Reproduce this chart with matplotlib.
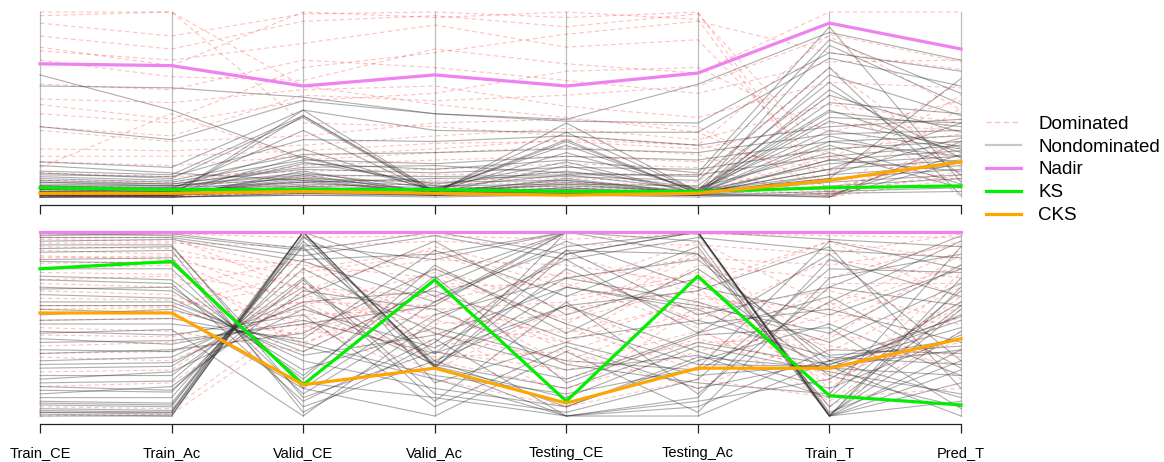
import numpy as np
import matplotlib.pyplot as plt
from matplotlib.lines import Line2D

plt.rcParams["font.family"] = ["Liberation Sans", "DejaVu Sans"]

VARIABLES = ["Train_CE", "Train_Ac", "Valid_CE", "Valid_Ac",
             "Testing_CE", "Testing_Ac", "Train_T", "Pred_T"]

# ---- top panel (scaled objective values) ----
top_nadir = [0.72, 0.71, 0.60, 0.66, 0.60, 0.67, 0.94, 0.80]
top_ks = [0.05, 0.04, 0.04, 0.04, 0.03, 0.03, 0.05, 0.06]
top_cks = [0.02, 0.02, 0.03, 0.02, 0.01, 0.02, 0.09, 0.19]

top_nondominated = [
    [0.66, 0.47, 0.21, 0.06, 0.03, 0.02, 0.30, 0.22],
    [0.60, 0.59, 0.54, 0.45, 0.42, 0.61, 0.89, 0.74],
    [0.38, 0.31, 0.52, 0.45, 0.41, 0.40, 0.78, 0.68],
    [0.19, 0.16, 0.47, 0.36, 0.35, 0.35, 0.75, 0.60],
    [0.14, 0.12, 0.44, 0.03, 0.30, 0.02, 0.51, 0.45],
    [0.13, 0.10, 0.43, 0.02, 0.03, 0.03, 0.43, 0.40],
    [0.12, 0.11, 0.31, 0.30, 0.33, 0.28, 0.38, 0.42],
    [0.11, 0.09, 0.23, 0.24, 0.26, 0.24, 0.34, 0.36],
    [0.10, 0.08, 0.20, 0.18, 0.22, 0.20, 0.30, 0.33],
    [0.09, 0.07, 0.15, 0.13, 0.16, 0.15, 0.26, 0.30],
    [0.08, 0.06, 0.12, 0.11, 0.12, 0.12, 0.22, 0.28],
    [0.07, 0.06, 0.10, 0.02, 0.10, 0.02, 0.20, 0.25],
    [0.06, 0.05, 0.08, 0.03, 0.35, 0.03, 0.18, 0.22],
    [0.05, 0.04, 0.36, 0.02, 0.08, 0.02, 0.15, 0.20],
    [0.04, 0.04, 0.06, 0.04, 0.06, 0.03, 0.12, 0.17],
    [0.03, 0.03, 0.05, 0.02, 0.05, 0.02, 0.10, 0.15],
    [0.02, 0.02, 0.04, 0.01, 0.04, 0.02, 0.08, 0.12],
    [0.01, 0.01, 0.03, 0.01, 0.03, 0.01, 0.06, 0.10],
    [0.00, 0.01, 0.12, 0.02, 0.02, 0.02, 0.28, 0.07],
    [0.00, 0.00, 0.02, 0.01, 0.02, 0.01, 0.03, 0.05],
    [0.01, 0.00, 0.01, 0.00, 0.01, 0.00, 0.02, 0.03],
    [0.17, 0.13, 0.09, 0.06, 0.07, 0.06, 0.62, 0.12],
    [0.02, 0.02, 0.18, 0.15, 0.20, 0.13, 0.92, 0.08],
    [0.03, 0.02, 0.10, 0.08, 0.09, 0.03, 0.10, 0.64],
    [0.04, 0.03, 0.07, 0.05, 0.19, 0.02, 0.46, 0.38],
    [0.05, 0.05, 0.26, 0.03, 0.24, 0.04, 0.36, 0.26],
    [0.06, 0.04, 0.19, 0.07, 0.14, 0.05, 0.24, 0.05],
    [0.02, 0.01, 0.05, 0.03, 0.04, 0.02, 0.00, 0.19],
    [0.01, 0.01, 0.03, 0.02, 0.02, 0.01, 0.01, 0.23],
    [0.00, 0.00, 0.01, 0.01, 0.01, 0.01, 0.00, 0.30],
    [0.08, 0.07, 0.16, 0.17, 0.13, 0.11, 0.85, 0.56],
    [0.03, 0.03, 0.08, 0.10, 0.11, 0.09, 0.70, 0.01],
    [0.02, 0.01, 0.44, 0.02, 0.40, 0.03, 0.82, 0.50],
    [0.01, 0.01, 0.47, 0.03, 0.31, 0.02, 0.66, 0.44],
    [0.03, 0.02, 0.22, 0.04, 0.28, 0.03, 0.55, 0.35],
    [0.00, 0.00, 0.14, 0.02, 0.17, 0.02, 0.41, 0.27],
    [0.04, 0.03, 0.11, 0.03, 0.09, 0.02, 0.33, 0.18],
    [0.01, 0.01, 0.06, 0.01, 0.05, 0.01, 0.20, 0.14],
    [0.02, 0.02, 0.09, 0.02, 0.07, 0.02, 0.15, 0.40],
    [0.00, 0.01, 0.04, 0.02, 0.03, 0.01, 0.12, 0.32],
    [0.06, 0.06, 0.13, 0.05, 0.12, 0.04, 0.47, 0.24],
    [0.01, 0.00, 0.02, 0.01, 0.02, 0.01, 0.58, 0.21],
]

top_dominated = [
    [1.00, 1.00, 0.60, 0.50, 0.43, 0.35, 0.05, 0.20],
    [0.94, 0.87, 0.99, 1.00, 0.97, 1.00, 0.02, 0.48],
    [0.81, 0.71, 1.00, 0.97, 1.00, 0.96, 0.00, 0.10],
    [0.79, 0.74, 0.83, 0.93, 0.81, 0.85, 0.12, 0.55],
    [0.74, 0.65, 0.63, 0.80, 0.72, 0.67, 1.00, 1.00],
    [0.61, 0.58, 0.74, 0.70, 0.63, 0.56, 0.73, 0.74],
    [0.53, 0.51, 0.58, 0.60, 0.49, 0.43, 0.62, 0.59],
    [0.38, 0.33, 0.55, 0.52, 0.55, 0.60, 0.87, 0.47],
    [0.36, 0.30, 0.33, 0.40, 0.42, 0.38, 0.02, 0.31],
    [0.26, 0.25, 0.28, 0.33, 0.37, 0.31, 0.50, 0.40],
    [0.22, 0.22, 0.25, 0.29, 0.30, 0.26, 0.40, 0.36],
    [0.16, 0.45, 0.20, 0.24, 0.27, 0.23, 0.01, 0.27],
    [0.09, 0.08, 0.17, 0.20, 0.22, 0.19, 0.25, 0.34],
    [0.13, 0.11, 0.14, 0.15, 0.18, 0.16, 0.00, 0.29],
    [0.06, 0.05, 0.11, 0.12, 0.13, 0.12, 0.03, 0.25],
    [0.04, 0.03, 0.08, 0.09, 0.10, 0.08, 0.70, 0.16],
    [0.03, 0.02, 0.06, 0.07, 0.08, 0.06, 0.01, 0.14],
    [0.02, 0.01, 0.04, 0.05, 0.06, 0.04, 0.55, 0.00],
    [0.01, 0.01, 0.02, 0.03, 0.03, 0.02, 0.22, 0.09],
    [0.00, 0.00, 0.03, 0.04, 0.05, 0.03, 0.02, 0.12],
    [0.98, 1.00, 0.40, 0.38, 0.33, 0.28, 0.14, 0.42],
    [0.50, 0.42, 0.70, 0.78, 0.88, 0.95, 0.78, 0.69],
    [0.87, 0.80, 0.95, 0.98, 0.92, 0.99, 0.20, 0.62],
    [0.45, 0.40, 0.52, 0.56, 0.68, 0.70, 0.35, 0.52],
    [0.19, 0.17, 0.22, 0.26, 0.31, 0.28, 0.88, 0.73],
]

# ---- bottom panel (rank scaled values) ----
bot_nadir = [1.00, 1.00, 1.00, 1.00, 1.00, 1.00, 1.00, 1.00]
bot_ks = [0.80, 0.84, 0.17, 0.74, 0.08, 0.76, 0.11, 0.06]
bot_cks = [0.56, 0.56, 0.17, 0.26, 0.07, 0.26, 0.26, 0.42]

bot_nondominated = [
    [0.99, 0.98, 0.90, 1.00, 0.88, 1.00, 0.96, 0.92],
    [0.97, 0.97, 0.87, 0.98, 0.85, 0.97, 0.90, 0.86],
    [0.95, 0.96, 0.84, 0.62, 0.95, 0.70, 0.55, 0.80],
    [0.93, 0.93, 0.10, 0.35, 0.20, 0.45, 0.88, 0.30],
    [0.89, 0.90, 0.02, 0.40, 0.90, 0.55, 0.70, 0.60],
    [0.85, 0.86, 0.05, 0.30, 0.60, 0.35, 0.15, 0.44],
    [0.80, 0.80, 0.12, 0.55, 0.75, 0.62, 0.40, 0.72],
    [0.76, 0.74, 0.20, 0.82, 0.45, 0.80, 0.33, 0.38],
    [0.70, 0.68, 0.25, 0.48, 0.30, 0.25, 0.62, 0.95],
    [0.66, 0.64, 0.30, 0.15, 0.05, 0.30, 0.50, 0.22],
    [0.62, 0.62, 0.35, 0.70, 1.00, 0.88, 0.26, 0.55],
    [0.55, 0.58, 0.38, 0.20, 0.00, 0.10, 0.85, 0.65],
    [0.50, 0.50, 0.42, 0.90, 0.65, 0.92, 0.00, 0.18],
    [0.46, 0.44, 0.55, 0.05, 0.38, 0.15, 0.30, 0.10],
    [0.40, 0.41, 0.50, 0.60, 1.00, 1.00, 0.00, 0.25],
    [0.36, 0.35, 0.60, 0.28, 0.15, 0.40, 0.28, 0.48],
    [0.30, 0.32, 0.65, 0.95, 0.55, 0.75, 0.22, 0.05],
    [0.26, 0.27, 0.70, 0.27, 0.80, 0.50, 0.58, 0.40],
    [0.22, 0.22, 0.75, 0.12, 0.02, 0.20, 0.80, 0.78],
    [0.18, 0.19, 0.80, 0.45, 0.25, 0.33, 0.10, 0.68],
    [0.14, 0.13, 0.85, 0.88, 1.00, 1.00, 0.02, 0.30],
    [0.10, 0.10, 0.92, 0.27, 0.70, 0.60, 0.45, 0.82],
    [0.06, 0.05, 1.00, 0.27, 0.10, 0.38, 0.24, 0.12],
    [0.03, 0.02, 1.00, 0.75, 1.00, 0.95, 0.00, 0.58],
    [0.01, 0.00, 1.00, 0.27, 0.00, 0.05, 0.36, 0.34],
    [0.00, 0.00, 1.00, 0.18, 0.40, 0.22, 0.28, 0.52],
    [0.02, 0.01, 0.97, 0.65, 0.92, 1.00, 0.00, 0.75],
    [0.08, 0.07, 0.95, 0.34, 0.60, 0.68, 0.92, 0.15],
    [0.45, 0.47, 0.00, 0.52, 0.85, 0.45, 0.65, 0.26],
    [0.58, 0.56, 0.15, 0.00, 0.35, 0.02, 0.75, 0.88],
    [0.34, 0.36, 0.45, 0.80, 0.50, 0.28, 0.27, 0.00],
    [0.74, 0.72, 0.08, 0.42, 0.00, 0.08, 0.20, 0.62],
    [0.20, 0.24, 0.58, 0.37, 0.75, 0.85, 0.30, 0.42],
    [0.12, 0.16, 0.68, 0.58, 0.28, 0.18, 0.12, 0.92],
    [0.04, 0.03, 1.00, 0.26, 0.88, 1.00, 0.00, 0.36],
    [0.02, 0.02, 0.98, 0.28, 1.00, 1.00, 0.01, 0.46],
    [0.07, 0.06, 0.93, 0.85, 1.00, 0.99, 0.00, 0.70],
    [0.98, 0.99, 0.91, 0.30, 0.05, 0.32, 0.26, 0.22],
    [0.91, 0.92, 0.15, 0.62, 1.00, 1.00, 0.00, 0.08],
    [0.84, 0.83, 0.18, 0.10, 0.00, 0.00, 0.30, 0.54],
    [0.60, 0.60, 0.33, 0.44, 0.70, 0.58, 0.27, 0.36],
    [0.52, 0.53, 0.40, 0.22, 0.12, 0.26, 0.95, 0.80],
    [0.28, 0.29, 0.62, 0.68, 0.42, 0.52, 0.32, 0.28],
    [0.16, 0.14, 0.74, 0.08, 0.62, 0.12, 0.70, 0.98],
    [0.42, 0.39, 0.52, 0.34, 0.90, 0.88, 0.05, 0.60],
    [0.69, 0.70, 0.22, 0.76, 0.18, 0.44, 0.48, 0.04],
]

bot_dominated = [
    [0.99, 0.99, 0.97, 0.98, 0.96, 0.99, 0.98, 0.97],
    [0.96, 0.95, 0.80, 0.90, 0.70, 0.95, 0.60, 0.90],
    [0.92, 0.91, 0.75, 0.85, 0.82, 0.72, 0.95, 0.85],
    [0.90, 0.88, 0.60, 0.78, 0.50, 0.88, 0.35, 0.70],
    [0.87, 0.85, 0.70, 0.65, 0.40, 0.82, 0.75, 0.95],
    [0.83, 0.84, 0.55, 0.58, 0.62, 0.78, 0.20, 0.60],
    [0.78, 0.77, 0.65, 0.40, 0.88, 0.66, 0.50, 0.80],
    [0.74, 0.76, 0.48, 0.72, 0.35, 0.58, 0.68, 0.52],
    [0.72, 0.70, 0.85, 0.50, 0.55, 0.90, 0.05, 0.46],
    [0.68, 0.66, 0.40, 0.62, 0.78, 0.52, 0.85, 0.75],
    [0.64, 0.63, 0.52, 0.35, 0.25, 0.40, 0.42, 0.88],
    [0.60, 0.60, 0.78, 0.88, 0.65, 0.74, 0.15, 0.65],
    [0.56, 0.57, 0.44, 0.55, 0.45, 0.62, 0.30, 0.35],
    [0.52, 0.53, 0.62, 0.30, 0.15, 0.35, 0.55, 0.50],
    [0.48, 0.46, 0.35, 0.70, 0.72, 0.48, 0.08, 0.58],
    [0.44, 0.43, 0.58, 0.45, 0.30, 0.56, 0.38, 0.28],
    [0.38, 0.40, 0.50, 0.25, 0.60, 0.30, 0.72, 0.72],
    [0.32, 0.30, 0.62, 0.60, 0.20, 0.42, 0.25, 0.40],
    [0.24, 0.25, 0.72, 0.38, 0.48, 0.25, 0.62, 0.20],
    [0.16, 0.18, 0.66, 0.48, 0.10, 0.60, 0.18, 0.55],
    [0.05, 0.04, 0.55, 0.32, 0.35, 0.15, 0.45, 0.32],
    [0.00, 0.01, 0.50, 0.20, 0.05, 0.20, 0.10, 0.15],
    [0.94, 0.94, 0.92, 0.95, 0.93, 0.93, 0.88, 0.99],
    [0.80, 0.82, 0.38, 0.80, 0.58, 0.68, 0.95, 0.64],
    [0.97, 0.97, 0.68, 0.92, 0.75, 0.86, 0.82, 0.93],
    [0.86, 0.87, 0.82, 0.75, 0.52, 0.70, 0.12, 0.78],
    [0.58, 0.59, 0.72, 0.52, 0.40, 0.64, 0.58, 0.82],
    [0.34, 0.35, 0.46, 0.66, 0.28, 0.46, 0.22, 0.62],
]

DOM_COLOR = (1.0, 0.0, 0.0, 0.25)
NONDOM_COLOR = (0.2, 0.2, 0.2, 0.4)
NADIR_COLOR = "#EE82EE"
KS_COLOR = "#00EE00"
CKS_COLOR = "#FFA500"


def draw_panel(ax, dominated, nondominated, nadir, ks, cks, show_labels):
    x = np.arange(1, len(VARIABLES) + 1)

    for xi in x:
        ax.plot([xi, xi], [0, 1], color="#BEBEBE", lw=0.9, zorder=1,
                clip_on=False)

    for row in dominated:
        ax.plot(x, row, color=DOM_COLOR, lw=0.8, linestyle=(0, (4, 3)),
                zorder=2, clip_on=False)
    for row in nondominated:
        ax.plot(x, row, color=NONDOM_COLOR, lw=0.8, zorder=3, clip_on=False)

    ax.plot(x, nadir, color=NADIR_COLOR, lw=2.3, zorder=5, clip_on=False)
    ax.plot(x, ks, color=KS_COLOR, lw=2.3, zorder=6, clip_on=False)
    ax.plot(x, cks, color=CKS_COLOR, lw=2.3, zorder=7, clip_on=False)

    ax.set_xlim(1, len(VARIABLES))
    ax.set_ylim(0, 1)
    ax.set_yticks([])
    for side in ["top", "right", "left"]:
        ax.spines[side].set_visible(False)
    ax.spines["bottom"].set_position(("outward", 5.5))
    ax.spines["bottom"].set_color("#222222")
    ax.spines["bottom"].set_linewidth(0.9)
    ax.set_xticks(x)
    ax.tick_params(axis="x", length=6.5, width=0.9, color="#222222",
                   pad=9.5, labelsize=10.5)
    if show_labels:
        ax.set_xticklabels(VARIABLES)
    else:
        ax.set_xticklabels([])


fig = plt.figure(figsize=(11.64, 4.62), dpi=100)
W, H = 1164.0, 462.0
left = 40 / W
width = (961 - 40) / W

ax_top = fig.add_axes([left, (H - 197) / H, width, 185 / H])
ax_bot = fig.add_axes([left, (H - 416) / H, width, 184 / H])

draw_panel(ax_top, top_dominated, top_nondominated,
           top_nadir, top_ks, top_cks, show_labels=False)
draw_panel(ax_bot, bot_dominated, bot_nondominated,
           bot_nadir, bot_ks, bot_cks, show_labels=True)

handles = [
    Line2D([], [], color=(1.0, 0.6, 0.6, 0.7), lw=0.9, linestyle=(0, (4, 3))),
    Line2D([], [], color="#C8C8C8", lw=1.6),
    Line2D([], [], color=NADIR_COLOR, lw=2.3),
    Line2D([], [], color=KS_COLOR, lw=2.3),
    Line2D([], [], color=CKS_COLOR, lw=2.3),
]
labels = ["Dominated", "Nondominated", "Nadir", "KS", "CKS"]
fig.legend(handles, labels, loc="upper left",
           bbox_to_anchor=(978 / W, 1 - 108 / H),
           frameon=False, fontsize=13.5, handlelength=1.9,
           handletextpad=0.9, labelspacing=0.31, borderaxespad=0)

fig.savefig("out.png", dpi=100)
